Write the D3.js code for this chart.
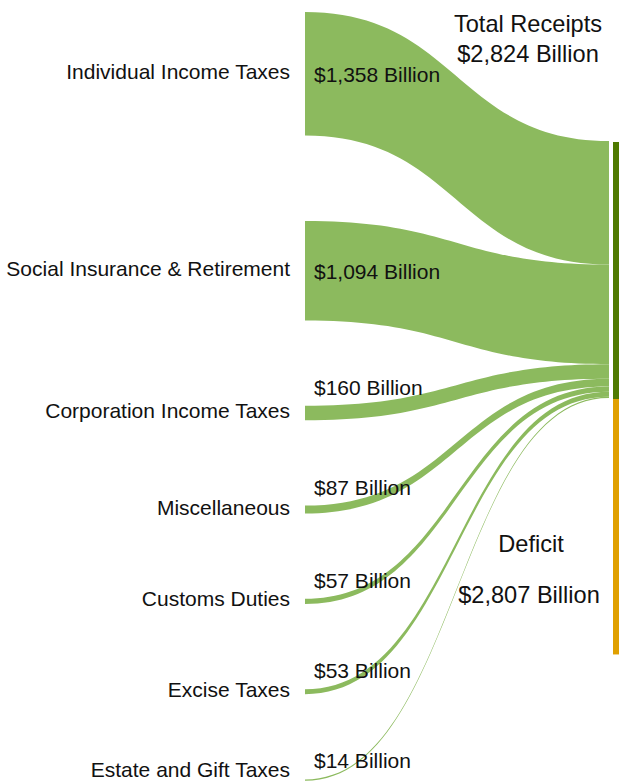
<!DOCTYPE html>
<html>
<head>
<meta charset="utf-8">
<script src="https://cdn.jsdelivr.net/npm/d3@7"></script>
<style>
  html, body { margin: 0; padding: 0; background: #fff; }
  svg { display: block; }
  text { font-family: "Liberation Sans", Arial, sans-serif; fill: #111; }
</style>
</head>
<body>
<svg id="chart" width="619" height="781"></svg>
<script>
// ---- data ----
const categories = [
  "Individual Income Taxes",
  "Social Insurance & Retirement",
  "Corporation Income Taxes",
  "Miscellaneous",
  "Customs Duties",
  "Excise Taxes",
  "Estate and Gift Taxes"
];
const receiptValues = [1358, 1094, 160, 87, 57, 53, 14];
const totalLabels = ["Total Receipts", "Deficit"];
const totalValues = [2824, 2807];

// ---- layout ----
const W = 619, H = 781;
const svg = d3.select("#chart");
const fmt = v => "$" + d3.format(",")(v) + " Billion";

const k = d3.scaleLinear().domain([0, 2824]).range([0, 257]);
const leftX = 305, rightX = 609;
const barX = 613, barW = 6;
const topY = 12, pad = 85.3;
const rightTop = 141;
const barTop = 142;

const flowColor = "#8cba5e";
const receiptColor = "#4f7a00";
const deficitColor = "#e0a000";

// compute node positions
let ly = topY, ry = rightTop;
const nodes = categories.map((c, i) => {
  const h = k(receiptValues[i]);
  const n = { name: c, value: receiptValues[i], y0: ly, y1: ly + h, r0: ry, r1: ry + h };
  ly += h + pad;
  ry += h;
  return n;
});

function bandPath(n) {
  const xm = (leftX + rightX) / 2;
  const p = d3.path();
  p.moveTo(leftX, n.y0);
  p.bezierCurveTo(xm, n.y0, xm, n.r0, rightX, n.r0);
  p.lineTo(rightX, n.r1);
  p.bezierCurveTo(xm, n.r1, xm, n.y1, leftX, n.y1);
  p.closePath();
  return p.toString();
}

// flows
svg.append("g").selectAll("path")
  .data(nodes)
  .join("path")
  .attr("d", bandPath)
  .attr("fill", flowColor);

// right bar
const recH = k(totalValues[0]), defH = k(totalValues[1]);
svg.append("rect").attr("x", barX).attr("y", barTop).attr("width", barW).attr("height", recH).attr("fill", receiptColor);
svg.append("rect").attr("x", barX).attr("y", barTop + recH).attr("width", barW).attr("height", defH).attr("fill", deficitColor);

// category labels
svg.append("g").selectAll("text")
  .data(nodes)
  .join("text")
  .attr("x", 290)
  .attr("y", d => Math.min((d.y0 + d.y1) / 2 + 5, H - 4))
  .attr("text-anchor", "end")
  .attr("font-size", 21)
  .text(d => d.name);

// value labels
svg.append("g").selectAll("text")
  .data(nodes)
  .join("text")
  .attr("x", 314)
  .attr("y", d => (d.y1 - d.y0) > 30 ? (d.y0 + d.y1) / 2 + 8.5 : d.y0 - 11)
  .attr("font-size", 21)
  .text(d => fmt(d.value));

// total labels
const cx = 528;
svg.append("text").attr("x", cx).attr("y", 32).attr("text-anchor", "middle").attr("font-size", 23.6).text(totalLabels[0]);
svg.append("text").attr("x", cx).attr("y", 62).attr("text-anchor", "middle").attr("font-size", 23.6).text(fmt(totalValues[0]));
svg.append("text").attr("x", 531).attr("y", 552).attr("text-anchor", "middle").attr("font-size", 23.6).text(totalLabels[1]);
svg.append("text").attr("x", 529).attr("y", 603).attr("text-anchor", "middle").attr("font-size", 23.6).text(fmt(totalValues[1]));
</script>
</body>
</html>
